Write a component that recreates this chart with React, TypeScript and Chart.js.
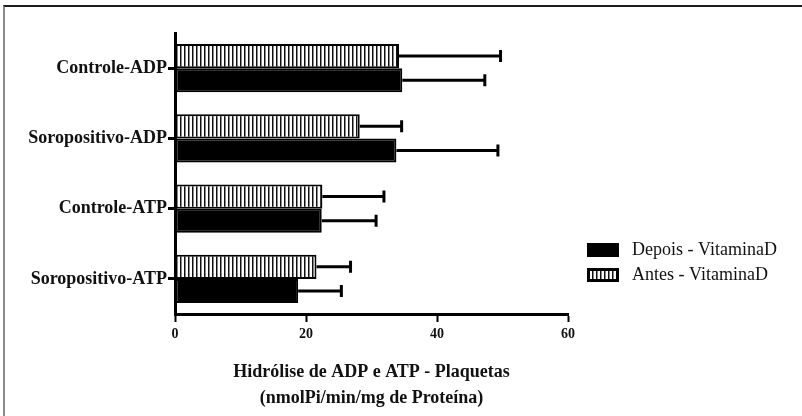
import React, { useEffect, useRef } from "react";
import { Chart, registerables } from "chart.js";

Chart.register(...registerables);

// ---- data ----
const categories = ["Controle-ADP", "Soropositivo-ADP", "Controle-ATP", "Soropositivo-ATP"];
const antesMeans = [34.2, 28.2, 22.5, 21.6];
const antesSD = [15.5, 6.4, 9.4, 5.2];
const depoisMeans = [34.7, 33.8, 22.4, 18.8];
const depoisSD = [12.6, 15.5, 8.3, 6.6];
const xMin = 0;
const xMax = 60;
const xStep = 20;
const antesLabel = "Antes - VitaminaD";
const depoisLabel = "Depois - VitaminaD";
const axisTitle = ["Hidrólise de ADP e ATP - Plaquetas", "(nmolPi/min/mg de Proteína)"];

const SERIF = "'Liberation Serif', 'Times New Roman', serif";

function makeHatch(): CanvasPattern | string {
  const c = document.createElement("canvas");
  c.width = 4;
  c.height = 4;
  const g = c.getContext("2d");
  if (!g) return "#888";
  g.fillStyle = "#ffffff";
  g.fillRect(0, 0, 4, 4);
  g.fillStyle = "#111111";
  g.fillRect(0, 0, 1.5, 4);
  return g.createPattern(c, "repeat") || "#888";
}

const errorLists = [antesSD, depoisSD];

const errorBarsPlugin = {
  id: "errorBars",
  afterDatasetsDraw(chart: any) {
    const ctx = chart.ctx;
    const xs = chart.scales.x;
    chart.data.datasets.forEach((ds: any, i: number) => {
      const meta = chart.getDatasetMeta(i);
      const sds = errorLists[i];
      meta.data.forEach((bar: any, j: number) => {
        const v = ds.data[j] as number;
        const x0 = xs.getPixelForValue(v);
        const x1 = xs.getPixelForValue(v + sds[j]);
        const y = bar.y;
        ctx.save();
        ctx.strokeStyle = "#000";
        ctx.lineWidth = 3;
        ctx.beginPath();
        ctx.moveTo(x0, y);
        ctx.lineTo(x1, y);
        ctx.stroke();
        ctx.beginPath();
        ctx.moveTo(x1, y - 6);
        ctx.lineTo(x1, y + 6);
        ctx.stroke();
        ctx.restore();
      });
    });
  },
};

const sideLegendPlugin = {
  id: "sideLegend",
  afterDraw(chart: any) {
    const ctx = chart.ctx;
    const area = chart.chartArea;
    const order = [1, 0]; // Depois first, then Antes
    const boxX = area.right + 19;
    const boxW = 32;
    const boxH = 14;
    const startY = area.top + 217;
    const gap = 25;
    order.forEach((dsIndex, k) => {
      const ds = chart.data.datasets[dsIndex];
      const cy = startY + k * gap;
      ctx.save();
      ctx.fillStyle = ds.backgroundColor;
      ctx.fillRect(boxX, cy - boxH / 2, boxW, boxH);
      ctx.strokeStyle = "#000";
      ctx.lineWidth = 3;
      ctx.strokeRect(boxX + 1.5, cy - boxH / 2 + 1.5, boxW - 3, boxH - 3);
      ctx.fillStyle = "#111";
      ctx.font = `18px ${SERIF}`;
      ctx.textBaseline = "middle";
      ctx.textAlign = "left";
      ctx.fillText(ds.label, boxX + boxW + 13, cy);
      ctx.restore();
    });
  },
};

export default function App() {
  const canvasRef = useRef<HTMLCanvasElement | null>(null);

  useEffect(() => {
    const canvas = canvasRef.current;
    if (!canvas) return;
    const hatch = makeHatch();
    const chart = new Chart(canvas, {
      type: "bar",
      data: {
        labels: categories,
        datasets: [
          {
            label: antesLabel,
            data: antesMeans,
            backgroundColor: hatch as any,
            borderColor: "#000",
            borderWidth: 2,
            borderSkipped: false,
            categoryPercentage: 0.69,
            barPercentage: 1.0,
          },
          {
            label: depoisLabel,
            data: depoisMeans,
            backgroundColor: "#000",
            borderColor: "#000",
            borderWidth: 2,
            borderSkipped: false,
            categoryPercentage: 0.69,
            barPercentage: 1.0,
          },
        ],
      },
      options: {
        indexAxis: "y",
        responsive: false,
        animation: false,
        layout: { padding: { left: 0, top: 33, right: 234, bottom: 0 } },
        plugins: {
          legend: { display: false },
          tooltip: { enabled: false },
        },
        scales: {
          x: {
            type: "linear",
            min: xMin,
            max: xMax,
            ticks: {
              stepSize: xStep,
              color: "#111",
              font: { family: SERIF, size: 14, weight: "bold" },
              padding: 4,
            },
            grid: {
              display: true,
              drawOnChartArea: false,
              drawTicks: true,
              tickLength: 8,
              tickWidth: 2,
              tickColor: "#000",
            },
            border: { display: true, color: "#000", width: 3 },
            title: {
              display: true,
              text: axisTitle,
              color: "#111",
              font: { family: SERIF, size: 18, weight: "bold", lineHeight: 1.45 },
              padding: { top: 0, bottom: 5 },
            },
            afterFit: (scale: any) => {
              scale.height = 102;
            },
          },
          y: {
            type: "category",
            ticks: {
              color: "#111",
              font: { family: SERIF, size: 18, weight: "bold" },
              padding: 1,
            },
            grid: {
              display: true,
              offset: false,
              drawOnChartArea: false,
              drawTicks: true,
              tickLength: 7,
              tickWidth: 3,
              tickColor: "#000",
            },
            border: { display: true, color: "#000", width: 3 },
            afterFit: (scale: any) => {
              scale.width = 175;
            },
          },
        },
      } as any,
      plugins: [errorBarsPlugin, sideLegendPlugin],
    });
    return () => {
      chart.destroy();
    };
  }, []);

  return (
    <div
      style={{
        position: "fixed",
        left: 0,
        top: 0,
        width: 802,
        height: 416,
        background: "#fff",
        overflow: "hidden",
      }}
    >
      <canvas ref={canvasRef} width={802} height={416} style={{ display: "block" }} />
      <div
        style={{
          position: "absolute",
          left: 3,
          top: 5,
          width: 799,
          height: 411,
          borderTop: "2px solid #1c1c1c",
          borderLeft: "2px solid #8a8a8a",
          boxSizing: "border-box",
          pointerEvents: "none",
        }}
      />
    </div>
  );
}
